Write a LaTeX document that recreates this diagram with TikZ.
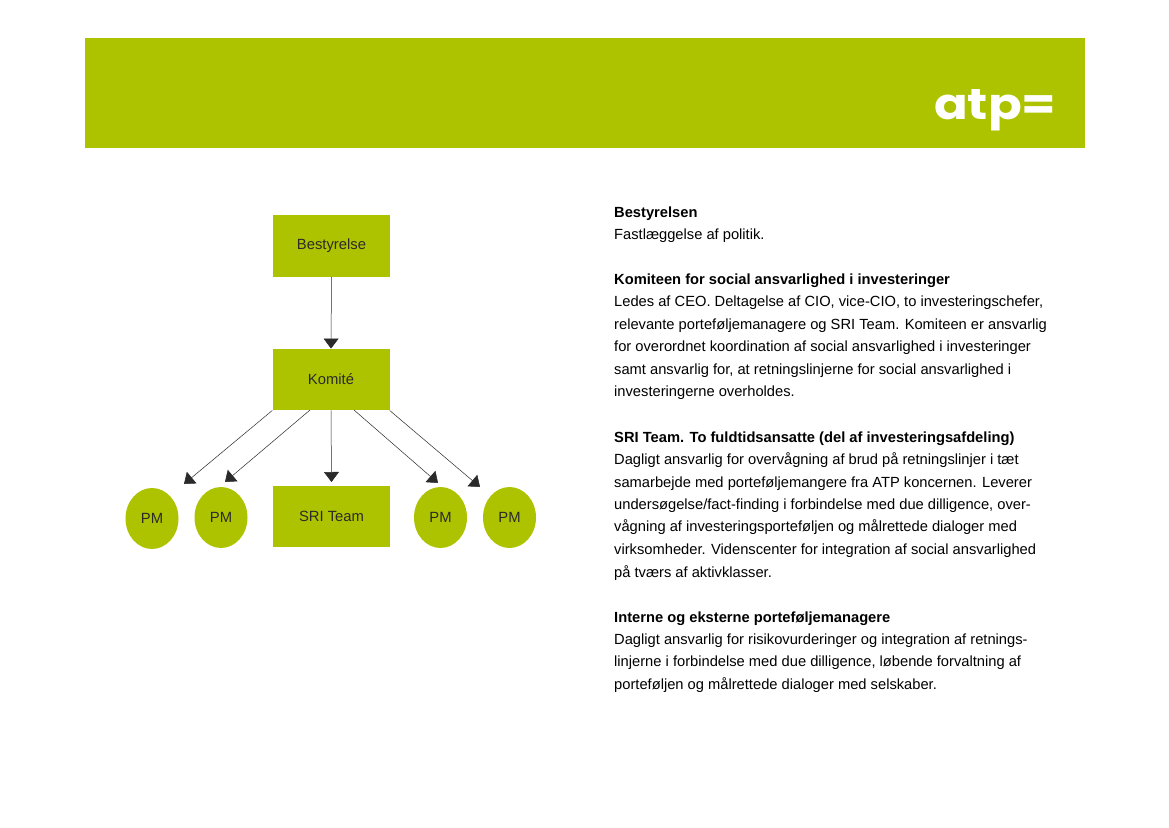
\documentclass[tikz,border=0pt]{standalone}
\usepackage{fontspec}
\setmainfont{Liberation Sans}
\newfontfamily\logofont{Poppins}
\usetikzlibrary{arrows.meta,shapes.geometric}
\definecolor{atpgreen}{HTML}{AEC300}
\definecolor{inkc}{HTML}{2A2A2A}
\tikzset{
  box/.style={rectangle,fill=atpgreen,minimum width=117pt,minimum height=61.5pt,inner sep=0pt,text=inkc,font=\fontsize{14.8}{16}\selectfont},
  pm/.style={ellipse,fill=atpgreen,minimum width=53pt,minimum height=61pt,inner sep=0pt,text=inkc,font=\fontsize{14.8}{16}\selectfont},
  link/.style={draw=inkc,line width=0.5pt,-{Triangle[length=10pt,width=15pt]}},
  bodyline/.style={anchor=base west,inner sep=0pt,text=black,font=\fontsize{14.7}{16}\selectfont},
  headline/.style={bodyline,font=\fontsize{14.7}{16}\selectfont\bfseries}
}
\begin{document}
\begin{tikzpicture}[x=1pt,y=-1pt]
\useasboundingbox (0,0) rectangle (1169,827);
\fill[white] (0,0) rectangle (1169,827);
\node[rectangle,fill=atpgreen,minimum width=1000pt,minimum height=110pt,inner sep=0pt,anchor=north west] (banner) at (85,38) {};
\node[anchor=base west,inner sep=0pt,text=white,font=\logofont\bfseries\fontsize{48}{48}\selectfont] (logo) at (934,119) {\scalebox{1.035}[0.9]{atp=}};

\node[box] (best) at (331.5,246) {Bestyrelse};
\node[box] (kom) at (331,379.5) {Komité};
\node[box] (sri) at (331.5,516.5) {SRI Team};
\node[pm] (pm1) at (152,518.5) {PM};
\node[pm] (pm2) at (221,517.5) {PM};
\node[pm] (pm3) at (440.5,517.5) {PM};
\node[pm] (pm4) at (509.5,517.5) {PM};

\coordinate (e1) at (184,484);
\coordinate (e2) at (225,482);
\coordinate (e3) at (331.5,482);
\coordinate (e4) at (438,483);
\coordinate (e5) at (480,487);
\coordinate (s2) at (310,410);
\coordinate (s4) at (354,410);
\draw[link] (best.south) -- (kom.north);
\draw[link] (kom.south west) -- (e1);
\draw[link] (s2) -- (e2);
\draw[link] (kom.south) -- (e3);
\draw[link] (s4) -- (e4);
\draw[link] (kom.south east) -- (e5);

\node[headline] (t1) at (614,217) {Bestyrelsen};
\node[bodyline] (t2) at (614,239) {Fastlæggelse af politik.};
\node[headline] (t3) at (614,284) {Komiteen for social ansvarlighed i investeringer};
\node[bodyline] (t4) at (614,306) {Ledes af CEO. Deltagelse af CIO, vice-CIO, to investeringschefer,};
\node[bodyline] (t5) at (614,329) {relevante porteføljemanagere og SRI Team. Komiteen er ansvarlig};
\node[bodyline] (t6) at (614,351) {for overordnet koordination af social ansvarlighed i investeringer};
\node[bodyline] (t7) at (614,374) {samt ansvarlig for, at retningslinjerne for social ansvarlighed i};
\node[bodyline] (t8) at (614,396) {investeringerne overholdes.};
\node[headline] (t9) at (614,442) {SRI Team. To fuldtidsansatte (del af investeringsafdeling)};
\node[bodyline] (t10) at (614,464) {Dagligt ansvarlig for overvågning af brud på retningslinjer i tæt};
\node[bodyline] (t11) at (614,487) {samarbejde med porteføljemangere fra ATP koncernen. Leverer};
\node[bodyline] (t12) at (614,509) {undersøgelse/fact-finding i forbindelse med due dilligence, over-};
\node[bodyline] (t13) at (614,531) {vågning af investeringsporteføljen og målrettede dialoger med};
\node[bodyline] (t14) at (614,554) {virksomheder. Videnscenter for integration af social ansvarlighed};
\node[bodyline] (t15) at (614,577) {på tværs af aktivklasser.};
\node[headline] (t16) at (614,622) {Interne og eksterne porteføljemanagere};
\node[bodyline] (t17) at (614,644) {Dagligt ansvarlig for risikovurderinger og integration af retnings-};
\node[bodyline] (t18) at (614,666) {linjerne i forbindelse med due dilligence, løbende forvaltning af};
\node[bodyline] (t19) at (614,689) {porteføljen og målrettede dialoger med selskaber.};
\end{tikzpicture}
\end{document}
